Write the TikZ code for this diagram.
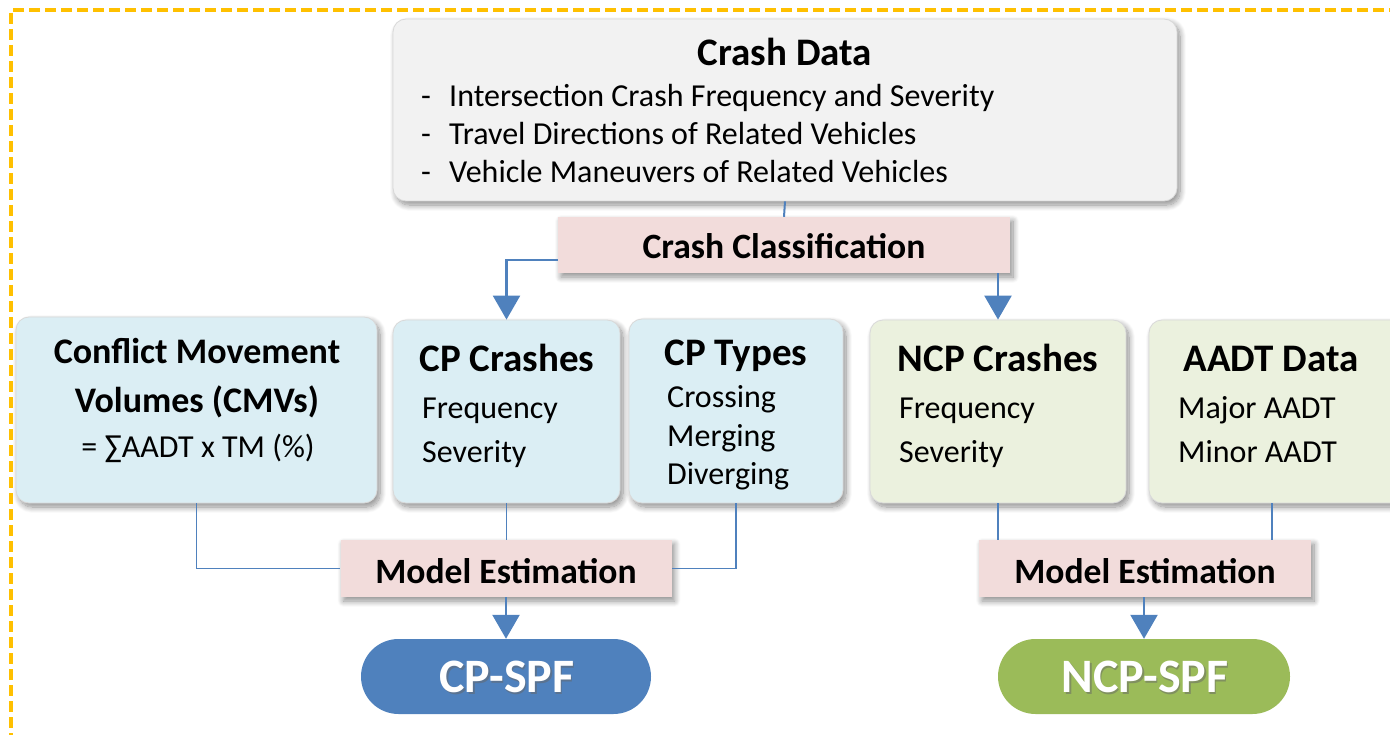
\documentclass[tikz,border=0pt]{standalone}
\usepackage{fontspec}
\setmainfont{Carlito}
\usetikzlibrary{arrows.meta,shadows,shadows.blur,shapes.misc}

\definecolor{frameorange}{HTML}{FFC000}
\definecolor{datagray}{HTML}{F2F2F2}
\definecolor{stepPink}{HTML}{F2DCDB}
\definecolor{cpBlue}{HTML}{DBEEF4}
\definecolor{ncpGreen}{HTML}{EBF1DE}
\definecolor{linkBlue}{HTML}{4F81BD}
\definecolor{spfBlue}{HTML}{4F81BD}
\definecolor{spfGreen}{HTML}{9BBB59}

\tikzset{
  softshadow/.style={blur shadow={shadow xshift=3pt, shadow yshift=-4pt,
      shadow blur radius=6pt, shadow blur steps=10, shadow opacity=45}},
  panel/.style={rectangle, rounded corners=13pt, draw=black!15, line width=0.8pt,
      inner sep=0pt, softshadow},
  stepbox/.style={rectangle, fill=stepPink, inner sep=0pt, softshadow},
  spf/.style={rounded rectangle, inner sep=0pt, text=white},
  txt/.style={inner sep=0pt, anchor=base west},
  ctxt/.style={inner sep=0pt, anchor=base},
  titlefont/.style={font=\fontsize{39}{44}\selectfont\bfseries},
  bodyfont/.style={font=\fontsize{32}{37}\selectfont},
  stepfont/.style={font=\fontsize{35.6}{40}\selectfont\bfseries},
  spffont/.style={font=\fontsize{48}{52}\selectfont\bfseries},
  link/.style={draw=linkBlue, line width=1.6pt},
  flow/.style={draw=linkBlue, line width=2.4pt, -{Triangle[width=27pt,length=24pt]}},
}

\begin{document}
\begin{tikzpicture}[x=1pt, y=-1pt]
\useasboundingbox (0,0) rectangle (1390,735);

% dashed frame running off the right and bottom edges
\draw[frameorange, line width=3.5pt, dash pattern=on 11pt off 5pt]
  (1400,10) -- (11,10) -- (11,745);

% ---------- boxes ----------
\node[panel, fill=datagray, minimum width=784pt, minimum height=182pt] (data) at (785,110) {};
\node[stepbox, minimum width=452pt, minimum height=56pt] (class) at (784,245) {};

\node[panel, fill=cpBlue, minimum width=361pt, minimum height=186pt] (cmv) at (196.5,410) {};
\node[panel, fill=cpBlue, minimum width=227pt, minimum height=183pt] (cpc) at (506.5,411.5) {};
\node[panel, fill=cpBlue, minimum width=214pt, minimum height=184pt] (cpt) at (736,411) {};
\node[panel, fill=ncpGreen, minimum width=256pt, minimum height=183pt] (ncp) at (998,411.5) {};
\node[panel, fill=ncpGreen, minimum width=256pt, minimum height=183pt] (aadt) at (1277,411.5) {};

\node[stepbox, minimum width=331pt, minimum height=57pt] (estL) at (506,568.5) {};
\node[stepbox, minimum width=332pt, minimum height=57pt] (estR) at (1145,568.5) {};

\node[spf, fill=spfBlue, minimum width=290pt, minimum height=75pt] (cpspf) at (506,676.5) {};
\node[spf, fill=spfGreen, minimum width=292pt, minimum height=75pt] (ncpspf) at (1144,676.5) {};

% ---------- texts ----------
\node[ctxt, titlefont] (dataT) at (785,66) {Crash Data};
\node[txt, bodyfont] (d1m) at (421,107) {-};
\node[txt, bodyfont] (d1) at (449,107) {Intersection Crash Frequency and Severity};
\node[txt, bodyfont] (d2m) at (421,145) {-};
\node[txt, bodyfont] (d2) at (449,145) {Travel Directions of Related Vehicles};
\node[txt, bodyfont] (d3m) at (421,183) {-};
\node[txt, bodyfont] (d3) at (449,183) {Vehicle Maneuvers of Related Vehicles};

\node[ctxt, stepfont] (classT) at (784,259) {Crash Classification};

\node[ctxt, font=\fontsize{36}{40}\selectfont\bfseries] (cmvT1) at (197,363) {Conflict Movement};
\node[ctxt, font=\fontsize{36}{40}\selectfont\bfseries] (cmvT2) at (197,412) {Volumes (CMVs)};
\node[ctxt, bodyfont] (cmvF) at (198,457) {= ∑AADT x TM (\%)};

\node[ctxt, titlefont] (cpcT) at (507,371) {CP Crashes};
\node[txt, bodyfont] (cpc1) at (422,418) {Frequency};
\node[txt, bodyfont] (cpc2) at (422,462) {Severity};

\node[ctxt, titlefont] (cptT) at (736,366) {CP Types};
\node[txt, bodyfont] (cpt1) at (667,407) {Crossing};
\node[txt, bodyfont] (cpt2) at (667,446) {Merging};
\node[txt, bodyfont] (cpt3) at (667,484) {Diverging};

\node[ctxt, titlefont] (ncpT) at (998,371) {NCP Crashes};
\node[txt, bodyfont] (ncp1) at (899,418) {Frequency};
\node[txt, bodyfont] (ncp2) at (899,462) {Severity};

\node[ctxt, titlefont] (aadtT) at (1271,371) {AADT Data};
\node[txt, bodyfont] (aadt1) at (1178,418) {Major AADT};
\node[txt, bodyfont] (aadt2) at (1178,462) {Minor AADT};

\node[ctxt, stepfont] (estLT) at (506,583) {Model Estimation};
\node[ctxt, stepfont] (estRT) at (1145,583) {Model Estimation};

% result labels with a faint text shadow
\node[ctxt, spffont, text=black!60, opacity=0.5] (cpspfS) at (508.5,694.5) {CP-SPF};
\node[ctxt, spffont, text=white] (cpspfT) at (507,692) {CP-SPF};
\node[ctxt, spffont, text=black!60, opacity=0.5] (ncpspfS) at (1146.5,694.5) {NCP-SPF};
\node[ctxt, spffont, text=white] (ncpspfT) at (1145,692) {NCP-SPF};

% ---------- connectors ----------
\draw[link, line width=2pt] (data.south) -- (class.north);
\draw[flow] (class.west |- 0,260) -| (cpc.north);
\draw[flow] (class.south -| ncp.north) -- (ncp.north);

\draw[link] (cmv.south) |- (estL.west);
\draw[link] (cpc.south) -- (cpc.south |- estL.north);
\draw[link] (cpt.south) |- (estL.east);
\draw[flow] (estL.south) -- (cpspf.north);

\draw[link] (ncp.south) -- (ncp.south |- estR.north);
\draw[link] (aadt.south -| 1272,0) -- (1272,0 |- estR.north);
\draw[flow] (estR.south -| ncpspf.north) -- (ncpspf.north);
\end{tikzpicture}
\end{document}
